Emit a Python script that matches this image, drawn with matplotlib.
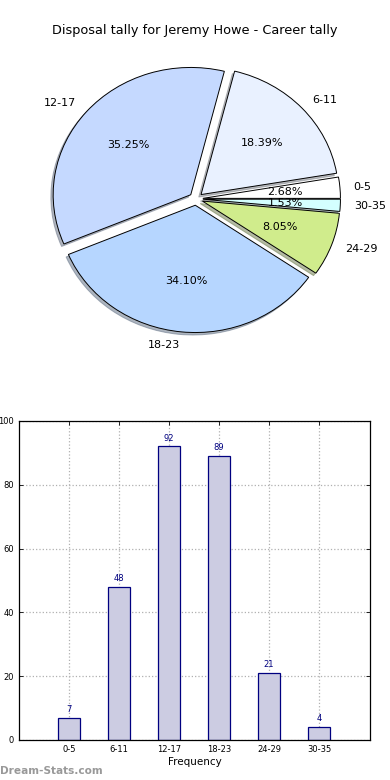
import matplotlib
matplotlib.use("Agg")
import matplotlib.pyplot as plt

categories = ["0-5", "6-11", "12-17", "18-23", "24-29", "30-35"]
values = [7, 48, 92, 89, 21, 4]
pie_colors = ["#ffffff", "#e9f1ff", "#c5d9ff", "#b6d6ff", "#d0ec8c", "#d4ffff"]
title = "Disposal tally for Jeremy Howe - Career tally"
xlabel = "Frequency"
yticks = [0, 20, 40, 60, 80, 100]

fig = plt.figure(figsize=(3.9, 7.8), dpi=100)

# Pie
ax1 = fig.add_axes([0.0615, 0.541, 0.882, 0.408])
wedges, texts, autotexts = ax1.pie(
    values, labels=categories, colors=pie_colors, explode=[0.05] * len(values),
    autopct="%1.2f%%", shadow=dict(ox=-0.012, oy=-0.014, shade=0.5), startangle=0,
    wedgeprops=dict(edgecolor="black", linewidth=0.7),
    textprops=dict(fontsize=8))
ax1.set_aspect("auto")
ax1.set_xlim(-1.25, 1.25)
ax1.set_ylim(-1.25, 1.25)
fig.text(0.5, 0.961, title, ha="center", va="center", fontsize=9.3)

# Bars
ax2 = fig.add_axes([0.0487, 0.0513, 0.9, 0.409])
x = list(range(len(categories)))
bars = ax2.bar(x, values, width=0.45, color="#ccccE2", edgecolor="#000080", linewidth=0.9, zorder=2)
for xi, v in zip(x, values):
    ax2.text(xi, v + 1.2, str(v), ha="center", va="bottom", fontsize=6, color="#000080")
ax2.set_xlim(-1, 6.02)
ax2.set_ylim(0, 100)
ax2.set_yticks(yticks)
ax2.set_xticks(x)
ax2.set_xticklabels(categories)
ax2.tick_params(labelsize=6, direction="in", top=True, right=True, length=3, width=0.6)
ax2.grid(True, linestyle=":", color="#b0b0b0", linewidth=0.9, zorder=0)
ax2.set_axisbelow(True)
ax2.set_xlabel(xlabel, fontsize=7.5, labelpad=2)
for s in ax2.spines.values():
    s.set_linewidth(0.9)
    s.set_color("black")

fig.text(0.0, 0.012, "Dream-Stats.com", fontsize=7.6, color="#999999", fontweight="bold",
         ha="left", va="center")

fig.savefig("out.png", dpi=100)
